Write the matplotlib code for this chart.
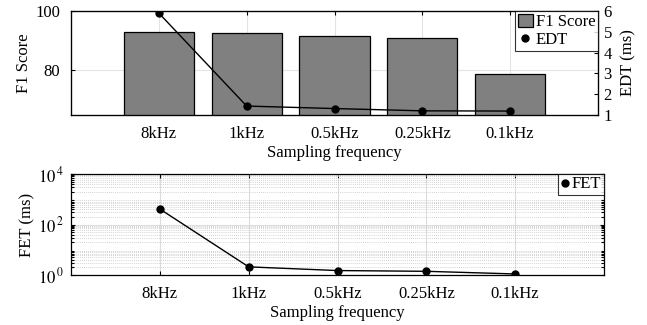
import numpy as np
import matplotlib.pyplot as plt
from matplotlib.lines import Line2D
from matplotlib.ticker import FixedLocator, FixedFormatter, LogLocator, NullFormatter

plt.rcParams['font.family'] = ['Liberation Serif', 'DejaVu Serif']
plt.rcParams['mathtext.fontset'] = 'stix'
plt.rcParams['font.size'] = 12

# data
freqs = ['8kHz', '1kHz', '0.5kHz', '0.25kHz', '0.1kHz']
f1_score = [93.1, 92.7, 91.7, 90.8, 78.9]
edt_ms = [5.9, 1.43, 1.31, 1.2, 1.19]
fet_ms = [410, 2.1, 1.5, 1.4, 1.1]

x = np.arange(1, len(freqs) + 1)
GRID = '#e3e3e3'

fig = plt.figure(figsize=(6.47, 3.25), dpi=100)

# ---- top panel: F1 bars + EDT line ----
ax1 = fig.add_axes([71 / 647, 1 - 115 / 325, (598 - 71) / 647, 104 / 325])
bars = ax1.bar(x, f1_score, width=0.8, color='#808080', edgecolor='black',
               linewidth=0.9, label='F1 Score', zorder=2)
ax1.set_xlim(0, 6)
ax1.set_ylim(65, 100)
ax1.set_yticks([80, 100])
ax1.set_xticks(x)
ax1.set_xticklabels(freqs)
ax1.set_ylabel('F1 Score', labelpad=2)
ax1.set_xlabel('Sampling frequency', labelpad=2)
ax1.grid(True, color=GRID, linewidth=0.8, zorder=0)
ax1.set_axisbelow(True)
ax1.tick_params(direction='in', length=3, top=True, right=True, width=0.8)
ax1.tick_params(axis='x', pad=8)
ax1.tick_params(axis='y', pad=8)
for s in ax1.spines.values():
    s.set_linewidth(0.9)

ax2 = ax1.twinx()
line, = ax2.plot(x, edt_ms, color='black', marker='o', markersize=5,
                 linewidth=1.0, label='EDT')
ax2.set_ylim(1, 6)
ax2.set_yticks([1, 2, 3, 4, 5, 6])
ax2.set_ylabel('EDT (ms)', labelpad=6)
ax2.tick_params(direction='in', length=3, width=0.8, pad=4)

dot = Line2D([], [], color='black', marker='o', markersize=5, linestyle='none')
leg = ax2.legend([bars, dot], ['F1 Score', 'EDT'], loc='upper right',
                 frameon=True, fancybox=False, borderpad=0.15, handlelength=0.9,
                 handleheight=0.9, handletextpad=0.2, labelspacing=0.1,
                 borderaxespad=0, fontsize=12)
leg.get_frame().set_edgecolor('black')
leg.get_frame().set_linewidth(0.8)

# ---- bottom panel: FET on log scale ----
ax3 = fig.add_axes([71 / 647, 1 - 275 / 325, (604 - 71) / 647, 101 / 325])
ax3.plot(x, fet_ms, color='black', marker='o', markersize=5, linewidth=1.0,
         zorder=3)
ax3.set_yscale('log')
ax3.set_xlim(0, 6)
ax3.set_ylim(1, 1e4)
ax3.set_xticks(x)
ax3.set_xticklabels(freqs)
ax3.yaxis.set_major_locator(FixedLocator([1, 1e2, 1e4]))
ax3.yaxis.set_major_formatter(FixedFormatter(['$10^{\\,0}$', '$10^{\\,2}$', '$10^{\\,4}$']))
ax3.yaxis.set_minor_locator(LogLocator(base=10, subs=np.arange(2, 10), numticks=20))
ax3.yaxis.set_minor_formatter(NullFormatter())
ax3.grid(True, which='major', color='#dcdcdc', linewidth=0.8, zorder=0)
ax3.grid(True, which='minor', axis='y', color='#c4c4c4', linewidth=0.6,
         linestyle=(0, (1, 1.5)), zorder=0)
ax3.set_axisbelow(True)
ax3.tick_params(which='both', direction='in', top=True, right=True, width=0.8)
ax3.tick_params(which='major', length=3)
ax3.tick_params(which='minor', length=2)
ax3.tick_params(axis='x', pad=8)
ax3.tick_params(axis='y', pad=5)
ax3.set_ylabel('FET (ms)', labelpad=2)
ax3.set_xlabel('Sampling frequency', labelpad=2)
for s in ax3.spines.values():
    s.set_linewidth(0.9)

leg3 = ax3.legend([dot], ['FET'], loc='upper right', frameon=True,
                  fancybox=False, borderpad=0.15, handlelength=0.6,
                  handletextpad=0.1, borderaxespad=0, fontsize=12)
leg3.get_frame().set_edgecolor('black')
leg3.get_frame().set_linewidth(0.8)

fig.savefig('out.png', dpi=100)
